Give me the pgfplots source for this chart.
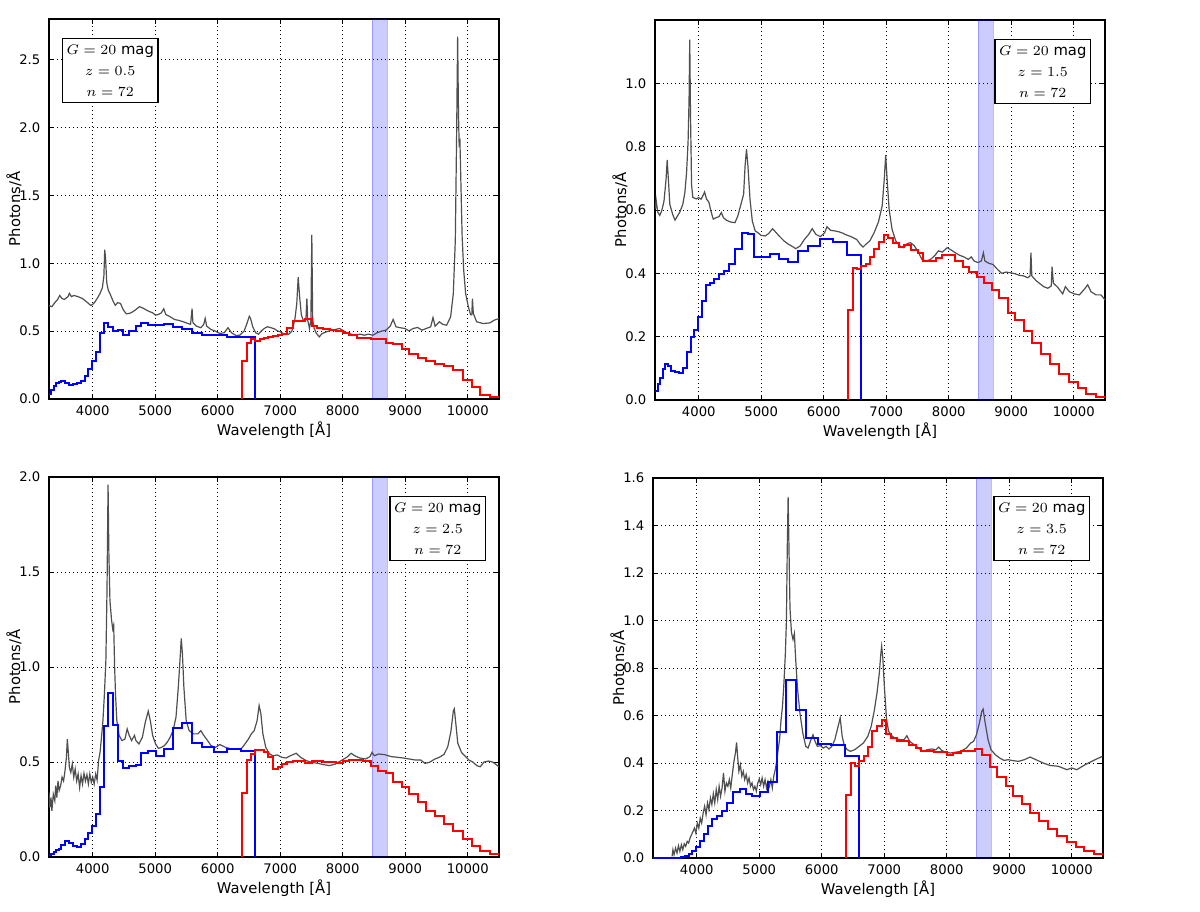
\documentclass[border=0pt]{standalone}
\usepackage{pgfplots}
\pgfplotsset{compat=1.18}
\usepackage{fontspec}
\setmainfont{DejaVu Sans}

\definecolor{specgrey}{HTML}{4F4F4F}

\pgfplotsset{
  spec/.style={
    width=225pt, height=190pt, scale only axis,
    xmin=3300, xmax=10500, ymin=0,
    xtick={4000,5000,...,10000},
    grid=major,
    major grid style={black, line width=0.5pt, dash pattern=on 0.6pt off 1.4pt},
    axis line style={black, line width=0.7pt},
    tick style={black, line width=0.5pt},
    tick align=inside, major tick length=2.5pt,
    scaled x ticks=false, scaled y ticks=false,
    /pgf/number format/assume math mode=true,
    xticklabel style={font=\fontsize{6.6}{7.5}\selectfont, anchor=base, yshift=-8pt,
                      /pgf/number format/1000 sep={}},
    yticklabel style={font=\fontsize{6.6}{7.5}\selectfont, xshift=-0.8pt,
                      /pgf/number format/fixed, /pgf/number format/fixed zerofill,
                      /pgf/number format/precision=1},
    xlabel={Wavelength [Å]}, ylabel={Photons/Å},
    xlabel style={font=\fontsize{7.4}{8.5}\selectfont, at={(axis description cs:0.5,-0.097)}, anchor=base},
    ylabel style={font=\fontsize{7.4}{8.5}\selectfont, at={(axis description cs:-0.078,0.5)}, anchor=center},
  },
  rvs/.style={fill=blue, fill opacity=0.2, draw=blue, draw opacity=0.25, line width=0.4pt},
  grey/.style={specgrey, line width=0.6pt},
  bp/.style={blue, line width=1pt, const plot mark left},
  rp/.style={red, line width=1pt, const plot mark left},
}
\tikzset{
  lab/.style={draw=black, line width=0.6pt, fill=white, align=center,
              font=\fontsize{7.4}{10.5}\selectfont, inner sep=2pt,
              minimum width=45pt, minimum height=32pt},
}

\begin{document}
\begin{tikzpicture}
\path[use as bounding box] (0,0) rectangle (600pt,-455.5pt);

% ---------- z = 0.5 ----------
\begin{axis}[spec, at={(24.5pt,-9.5pt)}, anchor=north west,
    ymax=2.8, ytick={0,0.5,...,2.5}]
  \addplot[rvs] coordinates {(8470,0) (8710,0) (8710,2.8) (8470,2.8) (8470,0)};
  \addplot[grey] coordinates {
    (3300,0.69) (3346,0.68) (3393,0.71) (3439,0.734) (3472,0.763) (3509,0.74) (3547,0.734)
    (3603,0.754) (3626,0.778) (3659,0.754) (3696,0.763) (3766,0.754) (3836,0.74) (3907,0.714)
    (3967,0.69) (4000,0.697) (4033,0.714) (4070,0.74) (4117,0.778) (4154,0.82) (4178,0.906)
    (4192,1.10) (4206,1.03) (4224,0.857) (4248,0.803) (4280,0.771) (4327,0.72) (4360,0.69)
    (4397,0.71) (4444,0.704) (4491,0.655) (4537,0.628) (4584,0.63) (4631,0.64) (4678,0.655)
    (4748,0.68) (4794,0.672) (4841,0.66) (4888,0.648) (4958,0.635) (5005,0.618) (5051,0.623)
    (5098,0.635) (5136,0.665) (5168,0.623) (5238,0.606) (5308,0.586) (5379,0.579) (5449,0.569)
    (5519,0.557) (5565,0.55) (5589,0.665) (5603,0.562) (5659,0.537) (5729,0.525) (5776,0.55)
    (5799,0.594) (5822,0.537) (5893,0.512) (5963,0.5) (6033,0.483) (6103,0.488) (6164,0.525)
    (6220,0.488) (6290,0.468) (6352,0.47) (6421,0.5) (6468,0.557) (6505,0.61) (6525,0.594)
    (6560,0.532) (6606,0.488) (6653,0.478) (6699,0.502) (6745,0.52) (6792,0.532) (6838,0.527)
    (6907,0.517) (6954,0.502) (7000,0.495) (7046,0.483) (7093,0.475) (7139,0.478) (7185,0.5)
    (7232,0.58) (7264,0.70) (7287,0.897) (7310,0.754) (7338,0.618) (7370,0.58) (7410,0.58)
    (7426,0.74) (7440,0.58) (7468,0.52) (7490,0.58) (7505,1.21) (7519,0.58) (7542,0.52)
    (7579,0.483) (7625,0.458) (7671,0.483) (7741,0.495) (7810,0.507) (7880,0.512) (7949,0.52)
    (7995,0.507) (8065,0.488) (8134,0.478) (8204,0.47) (8273,0.478) (8343,0.47) (8412,0.478)
    (8481,0.47) (8551,0.488) (8620,0.5) (8690,0.507) (8759,0.537) (8806,0.586) (8852,0.532)
    (8921,0.525) (8991,0.52) (9060,0.502) (9130,0.52) (9199,0.527) (9268,0.507) (9338,0.52)
    (9407,0.532) (9444,0.60) (9477,0.537) (9546,0.569) (9600,0.55) (9662,0.544) (9726,0.605)
    (9769,0.777) (9801,1.17) (9822,1.95) (9838,2.67) (9852,2.1) (9862,1.88) (9875,1.9)
    (9890,1.6) (9910,1.2) (9935,0.95) (9966,0.777) (10009,0.68) (10046,0.62) (10065,0.62)
    (10075,0.74) (10089,0.63) (10142,0.569) (10249,0.556) (10356,0.561) (10420,0.58) (10500,0.593)};
  \addplot[bp] coordinates {
    (3300,0.04) (3340,0.064) (3380,0.094) (3420,0.118) (3460,0.125) (3500,0.13) (3560,0.118)
    (3620,0.106) (3690,0.11) (3750,0.118) (3810,0.135) (3870,0.17) (3930,0.22) (3990,0.28)
    (4050,0.35) (4110,0.49) (4175,0.557) (4245,0.53) (4320,0.50) (4400,0.505) (4490,0.47)
    (4585,0.50) (4685,0.537) (4780,0.56) (4890,0.547) (5010,0.542) (5140,0.552) (5280,0.532)
    (5420,0.517) (5580,0.49) (5750,0.475) (5935,0.475) (6140,0.46) (6365,0.46) (6600,0)};
  \addplot[rp] coordinates {
    (6390,0) (6390,0.28) (6460,0.414) (6530,0.44) (6600,0.43) (6670,0.44) (6740,0.453)
    (6810,0.46) (6885,0.465) (6960,0.475) (7035,0.48) (7115,0.52) (7200,0.576) (7290,0.576)
    (7395,0.586) (7500,0.537) (7590,0.52) (7690,0.515) (7790,0.51) (7895,0.50) (8000,0.488)
    (8105,0.475) (8220,0.453) (8330,0.453) (8445,0.443) (8560,0.443) (8685,0.416) (8810,0.404)
    (8940,0.37) (9065,0.328) (9200,0.303) (9335,0.278) (9475,0.26) (9620,0.245) (9770,0.215)
    (9920,0.14) (10060,0.085) (10200,0.032) (10350,0.013) (10500,0.013)};
  \node[lab, anchor=north west, xshift=6.5pt, yshift=-9.5pt] at (rel axis cs:0,1)
    {$G=20$ mag\\$z=0.5$\\$n=72$};
\end{axis}

% ---------- z = 1.5 ----------
\begin{axis}[spec, at={(327.5pt,-10pt)}, anchor=north west,
    ymax=1.2, ytick={0,0.2,...,1.0}]
  \addplot[rvs] coordinates {(8470,0) (8710,0) (8710,1.2) (8470,1.2) (8470,0)};
  \addplot[grey] coordinates {
    (3306,0.604) (3318,0.632) (3343,0.594) (3375,0.583) (3407,0.597) (3444,0.628) (3477,0.697)
    (3495,0.758) (3514,0.697) (3537,0.618) (3583,0.586) (3620,0.568) (3653,0.579) (3699,0.594)
    (3745,0.618) (3778,0.655) (3805,0.718) (3829,0.813) (3845,0.95) (3856,1.138) (3868,0.9)
    (3885,0.68) (3905,0.64) (3960,0.635) (4000,0.639) (4037,0.634) (4069,0.646) (4093,0.657)
    (4125,0.634) (4162,0.625) (4194,0.597) (4232,0.571) (4278,0.576) (4324,0.579) (4361,0.592)
    (4394,0.576) (4440,0.568) (4509,0.562) (4579,0.56) (4625,0.581) (4671,0.615) (4718,0.65)
    (4741,0.739) (4764,0.792) (4787,0.739) (4820,0.634) (4857,0.565) (4903,0.534) (4949,0.528)
    (4995,0.52) (5065,0.518) (5120,0.526) (5181,0.541) (5227,0.531) (5296,0.516) (5366,0.502)
    (5435,0.492) (5505,0.484) (5551,0.478) (5620,0.486) (5690,0.507) (5759,0.523) (5815,0.541)
    (5875,0.523) (5945,0.516) (6014,0.528) (6051,0.547) (6107,0.536) (6176,0.534) (6245,0.531)
    (6315,0.526) (6341,0.523) (6434,0.516) (6527,0.507) (6582,0.492) (6629,0.483) (6675,0.492)
    (6736,0.502) (6805,0.528) (6875,0.562) (6935,0.613) (6968,0.697) (6991,0.773) (7014,0.697)
    (7046,0.602) (7093,0.539) (7153,0.502) (7223,0.486) (7278,0.481) (7339,0.494) (7385,0.497)
    (7445,0.488) (7501,0.471) (7571,0.444) (7640,0.439) (7710,0.444) (7780,0.457) (7835,0.471)
    (7896,0.467) (7975,0.481) (8035,0.474) (8104,0.465) (8174,0.457) (8243,0.452) (8313,0.444)
    (8360,0.452) (8406,0.439) (8466,0.434) (8522,0.439) (8554,0.465) (8578,0.439) (8638,0.432)
    (8708,0.428) (8777,0.413) (8847,0.4) (8916,0.404) (8986,0.402) (9055,0.399) (9125,0.394)
    (9195,0.392) (9264,0.386) (9301,0.392) (9315,0.465) (9329,0.392) (9403,0.376) (9473,0.365)
    (9520,0.358) (9584,0.353) (9640,0.36) (9653,0.421) (9674,0.369) (9743,0.356) (9823,0.335)
    (9866,0.358) (9930,0.342) (10010,0.335) (10090,0.332) (10170,0.35) (10223,0.364)
    (10276,0.342) (10356,0.332) (10436,0.332) (10500,0.316)};
  \addplot[bp] coordinates {
    (3300,0.028) (3340,0.05) (3380,0.07) (3420,0.097) (3460,0.113) (3500,0.107) (3560,0.092)
    (3620,0.088) (3690,0.085) (3750,0.102) (3810,0.153) (3870,0.2) (3930,0.22) (3990,0.262)
    (4050,0.313) (4110,0.362) (4175,0.368) (4245,0.383) (4320,0.397) (4400,0.407) (4490,0.43)
    (4585,0.476) (4685,0.528) (4780,0.523) (4890,0.452) (5010,0.452) (5140,0.462) (5280,0.444)
    (5420,0.436) (5580,0.47) (5750,0.486) (5935,0.51) (6140,0.5) (6365,0.457) (6600,0)};
  \addplot[rp] coordinates {
    (6390,0) (6390,0.283) (6460,0.416) (6530,0.413) (6600,0.423) (6670,0.43) (6740,0.452)
    (6810,0.476) (6885,0.5) (6960,0.52) (7035,0.513) (7115,0.497) (7200,0.483) (7290,0.488)
    (7395,0.474) (7500,0.463) (7590,0.44) (7690,0.44) (7790,0.45) (7895,0.457) (8000,0.457)
    (8105,0.44) (8220,0.42) (8330,0.405) (8445,0.388) (8560,0.368) (8685,0.346) (8810,0.323)
    (8940,0.276) (9065,0.253) (9200,0.218) (9335,0.181) (9475,0.145) (9620,0.113) (9770,0.082)
    (9920,0.058) (10060,0.037) (10200,0.019) (10350,0.011) (10500,0.011)};
  \node[lab, anchor=north east, xshift=-7pt, yshift=-9.5pt] at (rel axis cs:1,1)
    {$G=20$ mag\\$z=1.5$\\$n=72$};
\end{axis}

% ---------- z = 2.5 ----------
\begin{axis}[spec, at={(24.5pt,-238.5pt)}, anchor=north west,
    ymax=2.0, ytick={0,0.5,...,2.0}]
  \addplot[rvs] coordinates {(8470,0) (8710,0) (8710,2.0) (8470,2.0) (8470,0)};
  \addplot[grey] coordinates {
    (3300,0.34) (3313,0.26) (3332,0.313) (3346,0.243) (3369,0.33) (3393,0.296) (3407,0.375)
    (3425,0.313) (3444,0.40) (3463,0.35) (3486,0.375) (3509,0.42) (3533,0.40) (3556,0.454)
    (3579,0.525) (3593,0.62) (3607,0.56) (3626,0.472) (3649,0.445) (3673,0.49) (3696,0.42)
    (3719,0.463) (3743,0.40) (3766,0.437) (3790,0.366) (3813,0.428) (3836,0.384) (3860,0.44)
    (3883,0.40) (3907,0.433) (3930,0.384) (3953,0.437) (3977,0.393) (4000,0.42) (4023,0.384)
    (4047,0.437) (4070,0.405) (4093,0.507) (4117,0.551) (4140,0.63) (4163,0.718) (4187,0.86)
    (4210,1.035) (4228,1.4) (4245,1.96) (4258,1.6) (4275,1.35) (4300,1.25) (4320,1.2)
    (4335,1.22) (4350,1.0) (4365,0.85) (4385,0.72) (4421,0.64) (4467,0.613) (4514,0.62)
    (4551,0.674) (4584,0.64) (4621,0.613) (4668,0.64) (4691,0.613) (4738,0.595) (4794,0.63)
    (4841,0.71) (4888,0.768) (4921,0.718) (4958,0.64) (5005,0.595) (5051,0.572) (5098,0.577)
    (5145,0.586) (5192,0.604) (5238,0.63) (5285,0.665) (5332,0.736) (5369,0.894) (5402,1.07)
    (5416,1.15) (5435,1.07) (5458,0.894) (5495,0.718) (5542,0.665) (5612,0.648) (5682,0.648)
    (5729,0.665) (5776,0.64) (5822,0.62) (5893,0.586) (5963,0.577) (6033,0.592) (6126,0.577)
    (6220,0.569) (6375,0.569) (6444,0.599) (6491,0.621) (6537,0.648) (6583,0.665) (6630,0.718)
    (6662,0.797) (6690,0.754) (6722,0.648) (6768,0.577) (6829,0.542) (6884,0.533) (6954,0.537)
    (7023,0.525) (7093,0.521) (7162,0.533) (7255,0.546) (7324,0.525) (7417,0.507) (7509,0.498)
    (7602,0.493) (7695,0.486) (7787,0.481) (7880,0.489) (7972,0.507) (8065,0.525) (8134,0.546)
    (8190,0.533) (8273,0.521) (8366,0.516) (8435,0.528) (8468,0.551) (8505,0.533) (8574,0.542)
    (8667,0.539) (8782,0.528) (8875,0.525) (8968,0.521) (9060,0.516) (9153,0.511) (9245,0.511)
    (9315,0.493) (9384,0.498) (9477,0.516) (9546,0.525) (9620,0.54) (9680,0.58) (9730,0.66)
    (9770,0.77) (9785,0.78) (9810,0.7) (9840,0.6) (9900,0.55) (9960,0.53) (10020,0.51)
    (10080,0.5) (10150,0.48) (10200,0.475) (10260,0.5) (10330,0.505) (10400,0.5) (10500,0.475)};
  \addplot[bp] coordinates {
    (3300,0.01) (3340,0.018) (3380,0.028) (3420,0.035) (3460,0.044) (3500,0.063) (3560,0.085)
    (3620,0.072) (3690,0.058) (3750,0.053) (3810,0.07) (3870,0.093) (3930,0.125) (3990,0.164)
    (4050,0.225) (4110,0.37) (4175,0.687) (4245,0.863) (4320,0.695) (4400,0.507) (4490,0.466)
    (4585,0.477) (4685,0.486) (4780,0.546) (4890,0.56) (5010,0.533) (5140,0.569) (5280,0.678)
    (5420,0.706) (5580,0.60) (5750,0.577) (5935,0.551) (6140,0.569) (6365,0.56) (6600,0)};
  \addplot[rp] coordinates {
    (6390,0) (6390,0.335) (6460,0.51) (6530,0.542) (6600,0.565) (6670,0.565) (6740,0.551)
    (6810,0.525) (6885,0.461) (6960,0.472) (7035,0.489) (7115,0.498) (7200,0.507) (7290,0.507)
    (7395,0.493) (7500,0.503) (7590,0.503) (7690,0.498) (7790,0.498) (7895,0.495) (8000,0.503)
    (8105,0.512) (8220,0.508) (8330,0.503) (8445,0.477) (8560,0.454) (8685,0.44) (8810,0.396)
    (8940,0.366) (9065,0.331) (9200,0.287) (9335,0.243) (9475,0.215) (9620,0.176) (9770,0.135)
    (9920,0.093) (10060,0.058) (10200,0.03) (10350,0.018) (10500,0.018)};
  \node[lab, anchor=north east, xshift=-6.5pt, yshift=-9.5pt] at (rel axis cs:1,1)
    {$G=20$ mag\\$z=2.5$\\$n=72$};
\end{axis}

% ---------- z = 3.5 ----------
\begin{axis}[spec, at={(326.5pt,-239pt)}, anchor=north west,
    ymax=1.6, ytick={0,0.2,...,1.6}]
  \addplot[rvs] coordinates {(8470,0) (8710,0) (8710,1.6) (8470,1.6) (8470,0)};
  \addplot[grey] coordinates {
    (3605,0.007) (3619,0.035) (3637,0.014) (3661,0.042) (3684,0.021) (3707,0.052) (3730,0.028)
    (3754,0.056) (3777,0.035) (3800,0.06) (3823,0.049) (3847,0.07) (3870,0.063) (3893,0.084)
    (3916,0.098) (3940,0.112) (3963,0.126) (3986,0.105) (4009,0.147) (4033,0.126) (4056,0.168)
    (4079,0.147) (4102,0.189) (4126,0.218) (4149,0.182) (4172,0.232) (4195,0.204) (4219,0.253)
    (4242,0.225) (4265,0.271) (4288,0.232) (4312,0.288) (4335,0.246) (4358,0.302) (4381,0.26)
    (4405,0.295) (4428,0.358) (4451,0.281) (4474,0.316) (4498,0.302) (4521,0.33) (4544,0.295)
    (4572,0.358) (4595,0.407) (4619,0.442) (4637,0.487) (4656,0.421) (4674,0.365) (4698,0.393)
    (4721,0.344) (4744,0.365) (4767,0.33) (4791,0.351) (4814,0.316) (4837,0.337) (4860,0.302)
    (4884,0.316) (4907,0.288) (4930,0.302) (4953,0.281) (4977,0.316) (5000,0.333) (5023,0.309)
    (5046,0.337) (5070,0.302) (5093,0.33) (5116,0.295) (5140,0.323) (5163,0.302) (5186,0.33)
    (5209,0.295) (5232,0.344) (5256,0.372) (5279,0.407) (5302,0.456) (5325,0.498) (5349,0.582)
    (5372,0.639) (5395,0.737) (5418,0.863) (5435,1.0) (5448,1.3) (5462,1.52) (5476,1.3)
    (5492,1.05) (5515,0.95) (5540,0.92) (5562,0.945) (5580,0.85) (5610,0.72) (5651,0.61)
    (5697,0.526) (5744,0.47) (5781,0.463) (5828,0.498) (5860,0.519) (5893,0.491) (5930,0.47)
    (5977,0.473) (6023,0.463) (6070,0.47) (6116,0.459) (6162,0.47) (6209,0.498) (6255,0.547)
    (6295,0.59) (6327,0.512) (6364,0.47) (6411,0.456) (6457,0.449) (6527,0.456) (6596,0.47)
    (6666,0.484) (6736,0.512) (6791,0.554) (6838,0.617) (6884,0.695) (6921,0.779) (6944,0.856)
    (6958,0.891) (6977,0.842) (7005,0.709) (7037,0.582) (7070,0.533) (7130,0.512) (7200,0.501)
    (7269,0.498) (7316,0.498) (7362,0.515) (7408,0.491) (7478,0.477) (7548,0.463) (7617,0.449)
    (7687,0.456) (7756,0.459) (7826,0.456) (7872,0.467) (7919,0.453) (7988,0.445) (8058,0.442)
    (8128,0.445) (8220,0.449) (8313,0.463) (8383,0.484) (8429,0.491) (8475,0.519) (8522,0.568)
    (8559,0.617) (8582,0.627) (8615,0.568) (8661,0.498) (8708,0.456) (8777,0.435) (8847,0.421)
    (8916,0.411) (8986,0.414) (9056,0.41) (9148,0.407) (9241,0.414) (9334,0.425) (9427,0.414)
    (9543,0.4) (9650,0.39) (9788,0.386) (9922,0.372) (10001,0.379) (10081,0.372) (10214,0.393)
    (10374,0.414) (10491,0.428)};
  \addplot[bp] coordinates {
    (3300,0) (3750,0.003) (3810,0.008) (3870,0.015) (3930,0.028) (3990,0.045) (4050,0.07)
    (4110,0.1) (4175,0.135) (4245,0.165) (4320,0.175) (4400,0.2) (4490,0.23) (4585,0.28)
    (4685,0.29) (4780,0.27) (4890,0.26) (5010,0.28) (5140,0.32) (5280,0.53) (5420,0.75)
    (5580,0.625) (5750,0.505) (5935,0.48) (6140,0.475) (6365,0.43) (6600,0)};
  \addplot[rp] coordinates {
    (6390,0) (6390,0.267) (6460,0.40) (6530,0.389) (6600,0.407) (6670,0.428) (6740,0.466)
    (6810,0.533) (6885,0.557) (6960,0.58) (7035,0.522) (7115,0.505) (7200,0.491) (7290,0.491)
    (7395,0.477) (7500,0.463) (7590,0.449) (7690,0.449) (7790,0.446) (7895,0.446) (8000,0.435)
    (8105,0.442) (8220,0.449) (8330,0.449) (8445,0.46) (8560,0.435) (8685,0.383) (8810,0.341)
    (8940,0.302) (9065,0.262) (9200,0.229) (9335,0.189) (9475,0.157) (9620,0.124) (9770,0.091)
    (9920,0.066) (10060,0.045) (10200,0.028) (10350,0.017) (10500,0.017)};
  \node[lab, anchor=north east, xshift=-6.5pt, yshift=-9pt] at (rel axis cs:1,1)
    {$G=20$ mag\\$z=3.5$\\$n=72$};
\end{axis}
\end{tikzpicture}
\end{document}
